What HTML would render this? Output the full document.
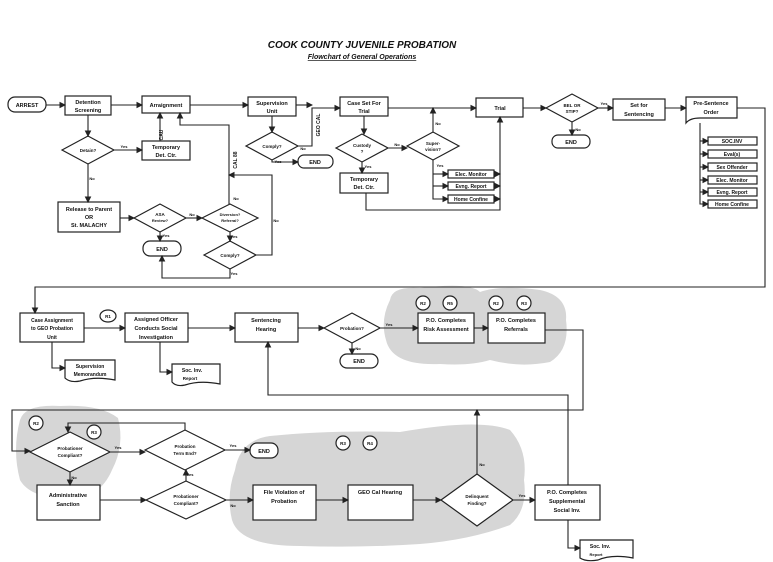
<!DOCTYPE html>
<html><head><meta charset="utf-8"><style>
html,body{margin:0;padding:0;background:#fff;}
svg{display:block;}
text{font-family:"Liberation Sans",sans-serif;font-weight:bold;fill:#111;}
</style></head><body>
<svg width="773" height="562" viewBox="0 0 773 562" xmlns="http://www.w3.org/2000/svg">
<defs>
<marker id="a" markerWidth="6" markerHeight="6" refX="5" refY="3" orient="auto"><path d="M0,0 L6,3 L0,6 z" fill="#222"/></marker>
</defs>
<!-- clouds -->
<g fill="#d6d6d6">
<path d="M390,300 Q392,286 420,288 Q470,282 480,292 Q500,285 540,290 Q568,296 566,320 Q570,350 550,362 Q520,368 490,360 Q470,366 440,364 Q392,366 386,340 Q380,320 390,300 z"/>
<path d="M20,420 Q25,404 60,406 Q100,404 118,418 Q125,445 112,470 Q100,498 70,500 Q30,498 20,480 Q12,450 20,420 z"/>
<path d="M235,470 Q240,440 270,436 Q330,430 400,432 Q480,418 510,430 Q528,450 524,480 Q528,510 510,525 Q470,540 420,544 Q360,548 300,546 Q240,546 232,520 Q226,495 235,470 z"/>
</g>
<text x="362" y="48" font-size="10" text-anchor="middle" font-style="italic">COOK COUNTY JUVENILE PROBATION</text>
<text x="362" y="59" font-size="7" text-anchor="middle" font-style="italic" text-decoration="underline">Flowchart of General Operations</text>
<g stroke="#222" stroke-width="1.2" fill="#fff">
<rect x="8" y="97" width="38" height="15" rx="7"/>
<rect x="65" y="96" width="46" height="19"/>
<rect x="142" y="96" width="48" height="17"/>
<rect x="248" y="97" width="48" height="19"/>
<rect x="340" y="97" width="48" height="19"/>
<rect x="476" y="98" width="47" height="19"/>
<polygon points="546,108 572,94 598,108 572,122"/>
<rect x="613" y="99" width="52" height="21"/>
<path d="M686,97 H737 V118 H700 Q690,118 686,123 z"/>
<rect x="708" y="137" width="49" height="8"/><rect x="708" y="150" width="49" height="8"/><rect x="708" y="163" width="49" height="8"/>
<rect x="708" y="176" width="49" height="8"/><rect x="708" y="188" width="49" height="8"/><rect x="708" y="200" width="49" height="8"/>
<rect x="552" y="135" width="38" height="13" rx="6"/>
<polygon points="62,150 88,136 114,150 88,164"/>
<rect x="142" y="141" width="48" height="19"/>
<rect x="58" y="202" width="62" height="30"/>
<polygon points="134,218 160,204 186,218 160,232"/>
<polygon points="202,218 230,204 258,218 230,232"/>
<polygon points="204,255 230,241 256,255 230,269"/>
<rect x="143" y="241" width="38" height="15" rx="7"/>
<polygon points="246,146 272,132 298,146 272,160"/>
<rect x="298" y="155" width="35" height="13" rx="6"/>
<polygon points="336,148 362,134 388,148 362,162"/>
<rect x="340" y="173" width="48" height="20"/>
<polygon points="407,146 433,132 459,146 433,160"/>
<rect x="448" y="170" width="46" height="8"/><rect x="448" y="182" width="46" height="8"/><rect x="448" y="195" width="46" height="8"/>
<rect x="20" y="313" width="64" height="29"/>
<ellipse cx="108" cy="316" rx="8" ry="6"/>
<rect x="125" y="313" width="63" height="29"/>
<rect x="235" y="313" width="63" height="29"/>
<polygon points="324,328 352,313 380,328 352,343"/>
<rect x="340" y="354" width="38" height="14" rx="7"/>
<rect x="418" y="313" width="56" height="30"/>
<rect x="488" y="313" width="57" height="30"/>
<circle cx="423" cy="303" r="7"/><circle cx="450" cy="303" r="7"/>
<circle cx="496" cy="303" r="7"/><circle cx="524" cy="303" r="7"/>
<path d="M65,360 H115 V380 Q95,376 80,381 Q70,383 65,378 z"/>
<path d="M172,364 H220 V384 Q200,380 185,385 Q176,387 172,382 z"/>
<circle cx="36" cy="423" r="7"/><circle cx="94" cy="432" r="7"/>
<polygon points="30,452 70,432 110,452 70,472"/>
<polygon points="145,450 185,430 225,450 185,470"/>
<rect x="250" y="443" width="28" height="15" rx="7"/>
<circle cx="343" cy="443" r="7"/><circle cx="370" cy="443" r="7"/>
<rect x="37" y="485" width="63" height="35"/>
<polygon points="146,500 186,481 226,500 186,519"/>
<rect x="253" y="485" width="63" height="35"/>
<rect x="348" y="485" width="65" height="35"/>
<polygon points="441,500 477,474 513,500 477,526"/>
<rect x="535" y="485" width="65" height="35"/>
<path d="M580,540 H633 V558 Q612,554 598,560 Q586,562 580,558 z"/>
</g>
<g stroke="#222" stroke-width="1.1" fill="none" marker-end="url(#a)">
<path d="M46,105 H65"/><path d="M111,105 H142"/><path d="M190,105 H248"/><path d="M296,105 H312"/>
<path d="M298,146 H312 V108 H340"/>
<path d="M388,108 H476"/><path d="M523,108 H546"/><path d="M598,108 H613"/><path d="M665,108 H686"/>
<path d="M572,122 V135"/>
<path d="M737,108 H765 V287 H35 V313"/>
<path d="M88,115 V136"/><path d="M114,150 H142"/><path d="M160,141 V113"/>
<path d="M88,164 V202"/><path d="M120,218 H134"/><path d="M186,218 H202"/><path d="M160,232 V241"/>
<path d="M229,204 V125 H180 V113"/><path d="M230,232 V241"/>
<path d="M256,255 H272 V175 H229"/><path d="M230,269 V278 H162 V256"/>
<path d="M272,116 V132"/><path d="M272,160 V162 H298"/>
<path d="M364,116 V134"/><path d="M362,162 V173"/><path d="M388,148 H407"/><path d="M433,132 V108"/>
<path d="M433,160 V199 H448"/><path d="M433,174 H448"/><path d="M433,186 H448"/>
<path d="M366,193 V210 H500 V117"/><path d="M494,174 H500"/><path d="M494,186 H500"/><path d="M494,199 H500"/>
<path d="M700,123 V204 H708"/><path d="M700,141 H708"/><path d="M700,154 H708"/><path d="M700,167 H708"/><path d="M700,180 H708"/><path d="M700,192 H708"/>
<path d="M84,328 H125"/><path d="M188,328 H235"/><path d="M298,328 H324"/><path d="M380,328 H418"/><path d="M474,328 H488"/>
<path d="M352,343 V354"/>
<path d="M52,342 V368 H65"/><path d="M160,342 V372 H172"/>
<path d="M568,485 V395 H268 V342"/>
<path d="M545,330 H583 V410 H12 V451 H30"/>
<path d="M110,452 H145"/><path d="M225,450 H250"/><path d="M185,430 V423 H68 V432"/>
<path d="M70,472 V485"/><path d="M100,500 H146"/><path d="M186,481 V470"/>
<path d="M226,500 H253"/><path d="M316,500 H348"/><path d="M413,500 H441"/><path d="M513,500 H535"/>
<path d="M477,474 V410"/><path d="M568,520 V548 H580"/>
</g>
<g font-size="5.5" text-anchor="middle">
<text x="27" y="107">ARREST</text>
<text x="88" y="104">Detention</text><text x="88" y="112">Screening</text>
<text x="166" y="107">Arraignment</text>
<text x="272" y="105">Supervision</text><text x="272" y="113">Unit</text>
<text x="364" y="105">Case Set For</text><text x="364" y="113">Trial</text>
<text x="500" y="110">Trial</text>
<text x="572" y="107" font-size="4.5">BEL OR</text><text x="572" y="113" font-size="4.5">STIP?</text>
<text x="639" y="107">Set for</text><text x="639" y="116">Sentencing</text>
<text x="711" y="105">Pre-Sentence</text><text x="711" y="114">Order</text>
<text x="732" y="143" font-size="5">SOC.INV</text><text x="732" y="156" font-size="5">Eval(s)</text><text x="732" y="169" font-size="5">Sex Offender</text>
<text x="732" y="182" font-size="5">Elec. Monitor</text><text x="732" y="194" font-size="5">Evng. Report</text><text x="732" y="206" font-size="5">Home Confine</text>
<text x="571" y="144">END</text>
<text x="88" y="152" font-size="4.5">Detain?</text>
<text x="166" y="149">Temporary</text><text x="166" y="157">Det. Ctr.</text>
<text x="89" y="211">Release to Parent</text><text x="89" y="219">OR</text><text x="89" y="227">St. MALACHY</text>
<text x="160" y="216" font-size="4.5">ASA</text><text x="160" y="222" font-size="4">Review?</text>
<text x="230" y="216" font-size="4">Diversion?</text><text x="230" y="222" font-size="4">Referral?</text>
<text x="230" y="257" font-size="4.5">Comply?</text>
<text x="162" y="251">END</text>
<text x="272" y="148" font-size="4.5">Comply?</text>
<text x="315" y="164">END</text>
<text x="362" y="147" font-size="4.5">Custody</text><text x="362" y="153" font-size="4.5">?</text>
<text x="364" y="181">Temporary</text><text x="364" y="189">Det. Ctr.</text>
<text x="433" y="145" font-size="4.5">Super-</text><text x="433" y="151" font-size="4.5">vision?</text>
<text x="471" y="176" font-size="5">Elec. Monitor</text><text x="471" y="188" font-size="5">Evng. Report</text><text x="471" y="201" font-size="5">Home Confine</text>
<text x="52" y="322" font-size="5">Case Assignment</text><text x="52" y="330" font-size="5">to GEO Probation</text><text x="52" y="339" font-size="5">Unit</text>
<text x="108" y="318" font-size="4.5">R1</text>
<text x="156" y="321">Assigned Officer</text><text x="156" y="330">Conducts Social</text><text x="156" y="339">Investigation</text>
<text x="266" y="322">Sentencing</text><text x="266" y="331">Hearing</text>
<text x="352" y="330" font-size="4.5">Probation?</text>
<text x="359" y="363">END</text>
<text x="446" y="322">P.O. Completes</text><text x="446" y="331">Risk Assessment</text>
<text x="516" y="322">P.O. Completes</text><text x="516" y="331">Referrals</text>
<text x="423" y="305" font-size="4.5">R2</text><text x="450" y="305" font-size="4.5">R5</text>
<text x="496" y="305" font-size="4.5">R2</text><text x="524" y="305" font-size="4.5">R3</text>
<text x="90" y="368" font-size="5">Supervision</text><text x="90" y="376" font-size="5">Memorandum</text>
<text x="192" y="372" font-size="5">Soc. Inv.</text><text x="190" y="380" font-size="4.5">Report</text>
<text x="36" y="425" font-size="4.5">R2</text><text x="94" y="434" font-size="4.5">R3</text>
<text x="70" y="450" font-size="4.5">Probationer</text><text x="70" y="457" font-size="4.5">Compliant?</text>
<text x="185" y="448" font-size="4.5">Probation</text><text x="185" y="455" font-size="4.5">Term End?</text>
<text x="264" y="453">END</text>
<text x="343" y="445" font-size="4.5">R3</text><text x="370" y="445" font-size="4.5">R4</text>
<text x="68" y="497">Administrative</text><text x="68" y="506">Sanction</text>
<text x="186" y="498" font-size="4.5">Probationer</text><text x="186" y="505" font-size="4.5">Compliant?</text>
<text x="284" y="494">File Violation of</text><text x="284" y="503">Probation</text>
<text x="380" y="494">GEO Cal Hearing</text>
<text x="477" y="498" font-size="4.5">Delinquent</text><text x="477" y="505" font-size="4.5">Finding?</text>
<text x="567" y="494">P.O. Completes</text><text x="567" y="503">Supplemental</text><text x="567" y="512">Social Inv.</text>
<text x="600" y="548" font-size="5">Soc. Inv.</text><text x="596" y="556" font-size="4">Report</text>
</g>
<g font-size="4" text-anchor="middle">
<text x="124" y="148">Yes</text><text x="92" y="180">No</text><text x="192" y="216">No</text><text x="166" y="237">Yes</text>
<text x="234" y="238">Yes</text><text x="236" y="200">No</text><text x="276" y="222">No</text><text x="234" y="275">Yes</text>
<text x="303" y="150">No</text><text x="278" y="163">Yes</text><text x="368" y="168">Yes</text><text x="397" y="146">No</text>
<text x="438" y="125">No</text><text x="440" y="167">Yes</text><text x="604" y="105">Yes</text><text x="578" y="131">No</text>
<text x="389" y="326">Yes</text><text x="358" y="350">No</text><text x="118" y="449">Yes</text><text x="74" y="479">No</text>
<text x="233" y="447">Yes</text><text x="190" y="476">Yes</text><text x="233" y="507">No</text><text x="482" y="466">No</text><text x="522" y="497">Yes</text>
</g>
<g font-size="5" text-anchor="middle">
<text transform="translate(163,135) rotate(-90)">CAU</text>
<text transform="translate(237,160) rotate(-90)">CAL 88</text>
<text transform="translate(320,125) rotate(-90)">GEO CAL</text>
</g>
</svg>
</body></html>
